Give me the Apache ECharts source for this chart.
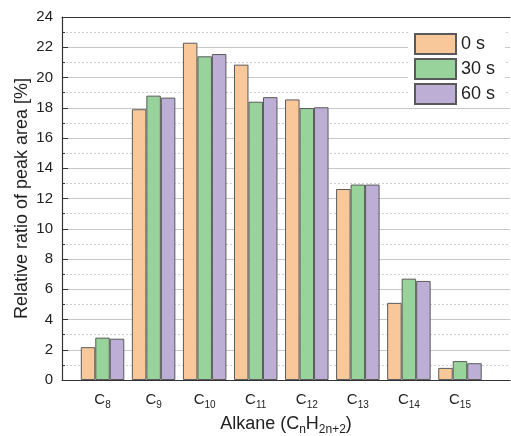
<!DOCTYPE html>
<html>
<head>
<meta charset="utf-8">
<script src="https://cdn.jsdelivr.net/npm/echarts@6/dist/echarts.min.js"></script>
<style>
  html, body { margin: 0; padding: 0; background: #fff; }
  #chart { width: 511px; height: 436px; }
</style>
</head>
<body>
<div id="chart"></div>
<script>
// carbon numbers of the alkanes (C8 ... C15)
const carbons = ['8', '9', '10', '11', '12', '13', '14', '15'];
const seriesNames = ['0 s', '30 s', '60 s'];
const data0s = [2.17, 17.9, 22.3, 20.85, 18.55, 12.63, 5.1, 0.8];
const data30s = [2.8, 18.8, 21.4, 18.4, 17.98, 12.92, 6.7, 1.25];
const data60s = [2.73, 18.67, 21.55, 18.7, 18.03, 12.92, 6.55, 1.11];
const yTicks = [0, 24, 2];

const colors = ['#f8c89b', '#98d39b', '#bcaed4'];
const font = 'Liberation Sans, Arial, sans-serif';

const myChart = echarts.init(document.getElementById('chart'));

const subRich = {
    c: {fontSize: 15, color: '#222', fontFamily: font},
    s: {fontSize: 10, color: '#222', fontFamily: font, padding: [10, 0, 0, 0]}
};
const nameRich = {
    a: {fontSize: 18, color: '#222', fontFamily: font},
    s: {fontSize: 12, color: '#222', fontFamily: font, padding: [11, 0, 0, 0]}
};

const seriesData = [data0s, data30s, data60s];

const option = {
    animation: false,
    textStyle: {fontFamily: font},
    grid: [
        // frame, y axis and grid lines
        {left: 62, right: 1, top: 17, bottom: 56, outerBoundsMode: 'none'},
        // bars sit in a narrower band, like the original plot
        {left: 77, right: 25.5, top: 17, bottom: 56, outerBoundsMode: 'none'}
    ],
    legend: {
        data: seriesNames,
        orient: 'vertical',
        left: 408,
        top: 31,
        padding: [2, 10, 2, 6],
        itemWidth: 41,
        itemHeight: 20,
        itemGap: 3,
        icon: 'rect',
        backgroundColor: '#fff',
        textStyle: {fontSize: 18, color: '#222', fontFamily: font}
    },
    xAxis: [
        {
            type: 'value', gridIndex: 0, min: 0, max: 1, position: 'bottom',
            axisLine: {show: true, lineStyle: {color: '#333', width: 1.2}},
            axisTick: {show: false}, axisLabel: {show: false}, splitLine: {show: false},
            name: '{a|Alkane (C}{s|n}{a|H}{s|2n+2}{a|)}',
            nameLocation: 'middle',
            nameGap: 33,
            nameTextStyle: {rich: nameRich}
        },
        {
            type: 'value', gridIndex: 0, min: 0, max: 1, position: 'top',
            axisLine: {show: true, lineStyle: {color: '#333', width: 1}},
            axisTick: {show: false}, axisLabel: {show: false}, splitLine: {show: false}
        },
        {
            type: 'category', gridIndex: 1, data: carbons,
            axisLine: {show: false}, axisTick: {show: false},
            axisLabel: {
                interval: 0,
                margin: 10,
                formatter: function (v) {
                    return '{c|C}{s|' + v + '}';
                },
                rich: subRich
            }
        }
    ],
    yAxis: [
        {
            type: 'value', gridIndex: 0,
            min: yTicks[0], max: yTicks[1], interval: yTicks[2],
            axisLine: {show: true, lineStyle: {color: '#333', width: 1.2}},
            axisTick: {show: true, inside: true, length: 6, lineStyle: {color: '#333'}},
            minorTick: {show: true, splitNumber: 2, length: 3, lineStyle: {color: '#333'}},
            axisLabel: {fontSize: 15, color: '#222', margin: 9},
            splitLine: {show: true, lineStyle: {color: '#c8c8c8', width: 1}},
            minorSplitLine: {show: true, lineStyle: {color: '#cfcfcf', type: [2, 2], width: 1}},
            name: 'Relative ratio of peak area [%]',
            nameLocation: 'middle',
            nameGap: 31,
            nameMoveOverlap: false,
            nameTextStyle: {fontSize: 18, color: '#222'}
        },
        {
            type: 'value', gridIndex: 1,
            min: yTicks[0], max: yTicks[1], show: false,
            splitLine: {show: false}
        }
    ],
    series: seriesNames.map(function (name, i) {
        return {
            name: name,
            type: 'bar',
            xAxisIndex: 2,
            yAxisIndex: 1,
            barWidth: 14.5,
            barGap: '0%',
            itemStyle: {color: colors[i], borderColor: '#5a5a5a', borderWidth: 1},
            data: seriesData[i]
        };
    })
};

myChart.setOption(option);
</script>
</body>
</html>
